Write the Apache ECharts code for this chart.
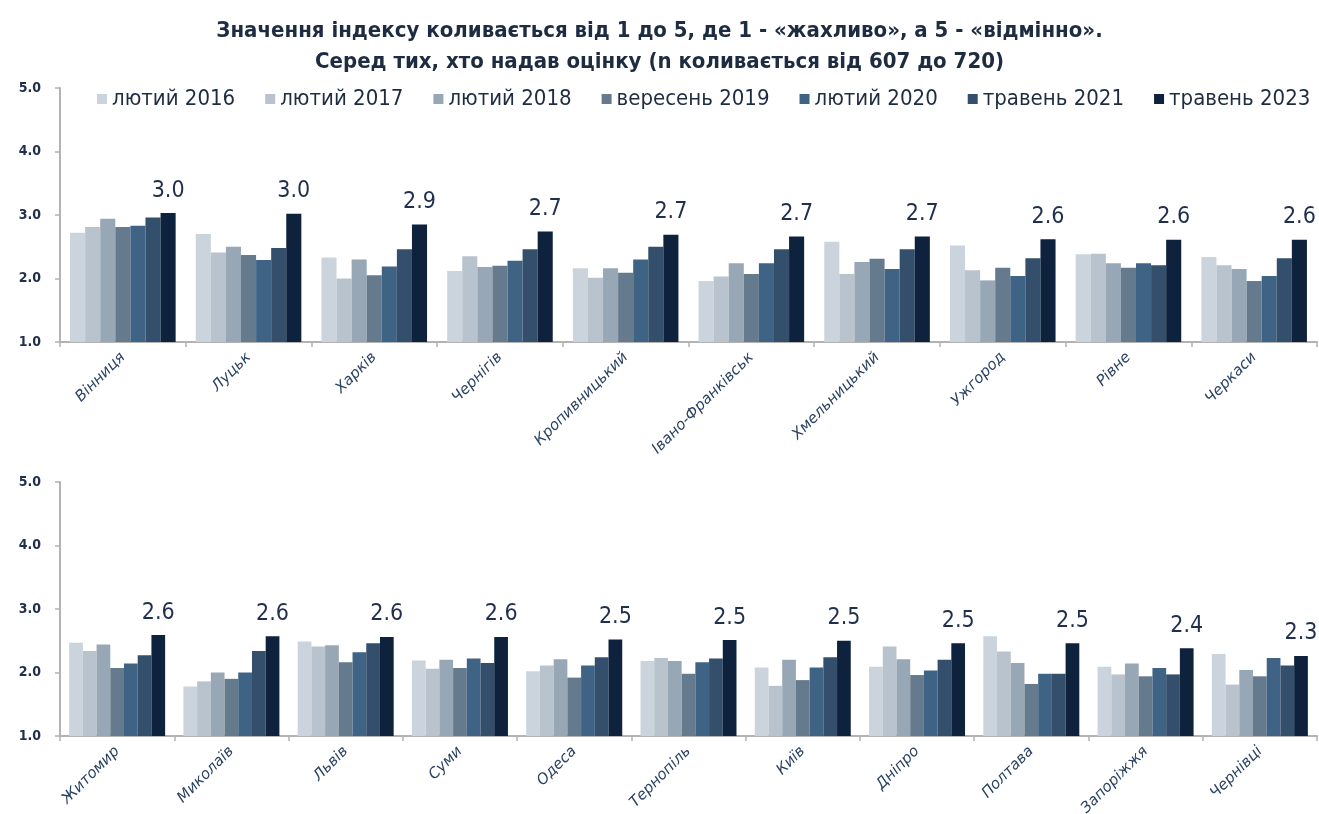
<!DOCTYPE html>
<html>
<head>
<meta charset="utf-8">
<script src="https://cdn.jsdelivr.net/npm/echarts@6/dist/echarts.min.js"></script>
<style>
  html, body { margin: 0; padding: 0; background: #fff; }
  #chart { width: 1319px; height: 814px; }
</style>
</head>
<body>
<div id="chart"></div>
<script>
// waves (legend)
const waves = ['лютий 2016', 'лютий 2017', 'лютий 2018', 'вересень 2019', 'лютий 2020', 'травень 2021', 'травень 2023']
const colors = ['#cbd4dc', '#b8c3cd', '#97a7b5', '#667a8d', '#3f6384', '#334f6b', '#0e213d']

// top panel
const citiesTop = ['Вінниця', 'Луцьк', 'Харків', 'Чернігів', 'Кропивницький', 'Івано-Франківськ', 'Хмельницький', 'Ужгород', 'Рівне', 'Черкаси']
const feb2016Top = [2.72, 2.70, 2.33, 2.12, 2.16, 1.96, 2.58, 2.52, 2.38, 2.34]
const feb2017Top = [2.81, 2.41, 2.00, 2.35, 2.01, 2.03, 2.07, 2.13, 2.39, 2.21]
const feb2018Top = [2.94, 2.50, 2.30, 2.18, 2.16, 2.24, 2.26, 1.97, 2.24, 2.15]
const sep2019Top = [2.81, 2.37, 2.05, 2.20, 2.09, 2.07, 2.31, 2.17, 2.17, 1.96]
const feb2020Top = [2.83, 2.29, 2.19, 2.28, 2.30, 2.24, 2.15, 2.04, 2.24, 2.04]
const may2021Top = [2.96, 2.48, 2.46, 2.46, 2.50, 2.46, 2.46, 2.32, 2.21, 2.32]
const may2023Top = [3.03, 3.02, 2.85, 2.74, 2.69, 2.66, 2.66, 2.62, 2.61, 2.61]

// bottom panel
const citiesBottom = ['Житомир', 'Миколаїв', 'Львів', 'Суми', 'Одеса', 'Тернопіль', 'Київ', 'Дніпро', 'Полтава', 'Запоріжжя', 'Чернівці']
const feb2016Bottom = [2.47, 1.78, 2.49, 2.19, 2.02, 2.18, 2.08, 2.09, 2.57, 2.09, 2.29]
const feb2017Bottom = [2.34, 1.86, 2.41, 2.06, 2.11, 2.23, 1.79, 2.41, 2.33, 1.97, 1.81]
const feb2018Bottom = [2.44, 2.00, 2.43, 2.20, 2.21, 2.18, 2.20, 2.21, 2.15, 2.14, 2.04]
const sep2019Bottom = [2.07, 1.90, 2.16, 2.07, 1.92, 1.98, 1.88, 1.96, 1.82, 1.94, 1.94]
const feb2020Bottom = [2.14, 2.00, 2.32, 2.22, 2.11, 2.16, 2.08, 2.03, 1.98, 2.07, 2.23]
const may2021Bottom = [2.27, 2.34, 2.46, 2.15, 2.24, 2.22, 2.24, 2.20, 1.98, 1.97, 2.11]
const may2023Bottom = [2.59, 2.57, 2.56, 2.56, 2.52, 2.51, 2.50, 2.46, 2.46, 2.38, 2.26]

// y axis ticks
const yMin = 1
const yMax = 5
const yStep = 1

const topData = [feb2016Top, feb2017Top, feb2018Top, sep2019Top, feb2020Top, may2021Top, may2023Top]
const bottomData = [feb2016Bottom, feb2017Bottom, feb2018Bottom, sep2019Bottom, feb2020Bottom, may2021Bottom, may2023Bottom]

const navy = '#1f2f4d'
const axisGray = '#b3b3b3'
const condensed = 'DejaVu Sans Condensed, DejaVu Sans, sans-serif'

const chart = echarts.init(document.getElementById('chart'))

function xAxisFor(idx, cats) {
  return {
    type: 'category',
    gridIndex: idx,
    data: cats,
    axisLine: { lineStyle: { color: axisGray, width: 2 } },
    axisTick: { show: true, length: 5, lineStyle: { color: axisGray, width: 1.5 } },
    axisLabel: {
      interval: 0,
      rotate: 45,
      margin: 13,
      color: '#2a4263',
      fontStyle: 'italic',
      fontSize: 15,
      fontFamily: 'DejaVu Sans, sans-serif'
    }
  }
}

function yAxisFor(idx) {
  return {
    type: 'value',
    gridIndex: idx,
    min: yMin,
    max: yMax,
    interval: yStep,
    splitLine: { show: false },
    axisLine: { show: true, lineStyle: { color: axisGray, width: 2 } },
    axisTick: { show: true, length: 5, lineStyle: { color: axisGray, width: 1.5 } },
    axisLabel: {
      margin: 19,
      color: navy,
      fontSize: 14,
      fontWeight: 'bold',
      fontFamily: condensed,
      formatter: v => v.toFixed(1)
    }
  }
}

function seriesFor(idx, data) {
  return waves.map((name, i) => ({
    name: name,
    type: 'bar',
    xAxisIndex: idx,
    yAxisIndex: idx,
    data: data[i],
    barGap: '0%',
    barCategoryGap: '16%',
    itemStyle: { color: colors[i] },
    label: {
      show: i === waves.length - 1,
      position: 'top',
      distance: 11,
      color: navy,
      fontSize: 23,
      fontFamily: condensed,
      formatter: p => p.value.toFixed(1)
    }
  }))
}

chart.setOption({
  animation: false,
  title: {
    text: 'Значення індексу коливається від 1 до 5, де 1 - «жахливо», а 5 - «відмінно».\nСеред тих, хто надав оцінку (n коливається від 607 до 720)',
    left: 'center',
    top: 11,
    textStyle: {
      color: '#1e2c42',
      fontSize: 22,
      fontWeight: 'bold',
      lineHeight: 31,
      fontFamily: condensed
    }
  },
  legend: {
    data: waves,
    left: 92,
    right: 0,
    top: 83,
    icon: 'rect',
    itemWidth: 10,
    itemHeight: 10,
    itemGap: 30,
    textStyle: {
      color: '#1e2c42',
      fontSize: 22,
      fontFamily: condensed
    }
  },
  grid: [
    { left: 60, right: 2, top: 88, height: 254, outerBoundsMode: 'none' },
    { left: 60, right: 2, top: 482, height: 254, outerBoundsMode: 'none' }
  ],
  xAxis: [xAxisFor(0, citiesTop), xAxisFor(1, citiesBottom)],
  yAxis: [yAxisFor(0), yAxisFor(1)],
  series: seriesFor(0, topData).concat(seriesFor(1, bottomData))
})
</script>
</body>
</html>
